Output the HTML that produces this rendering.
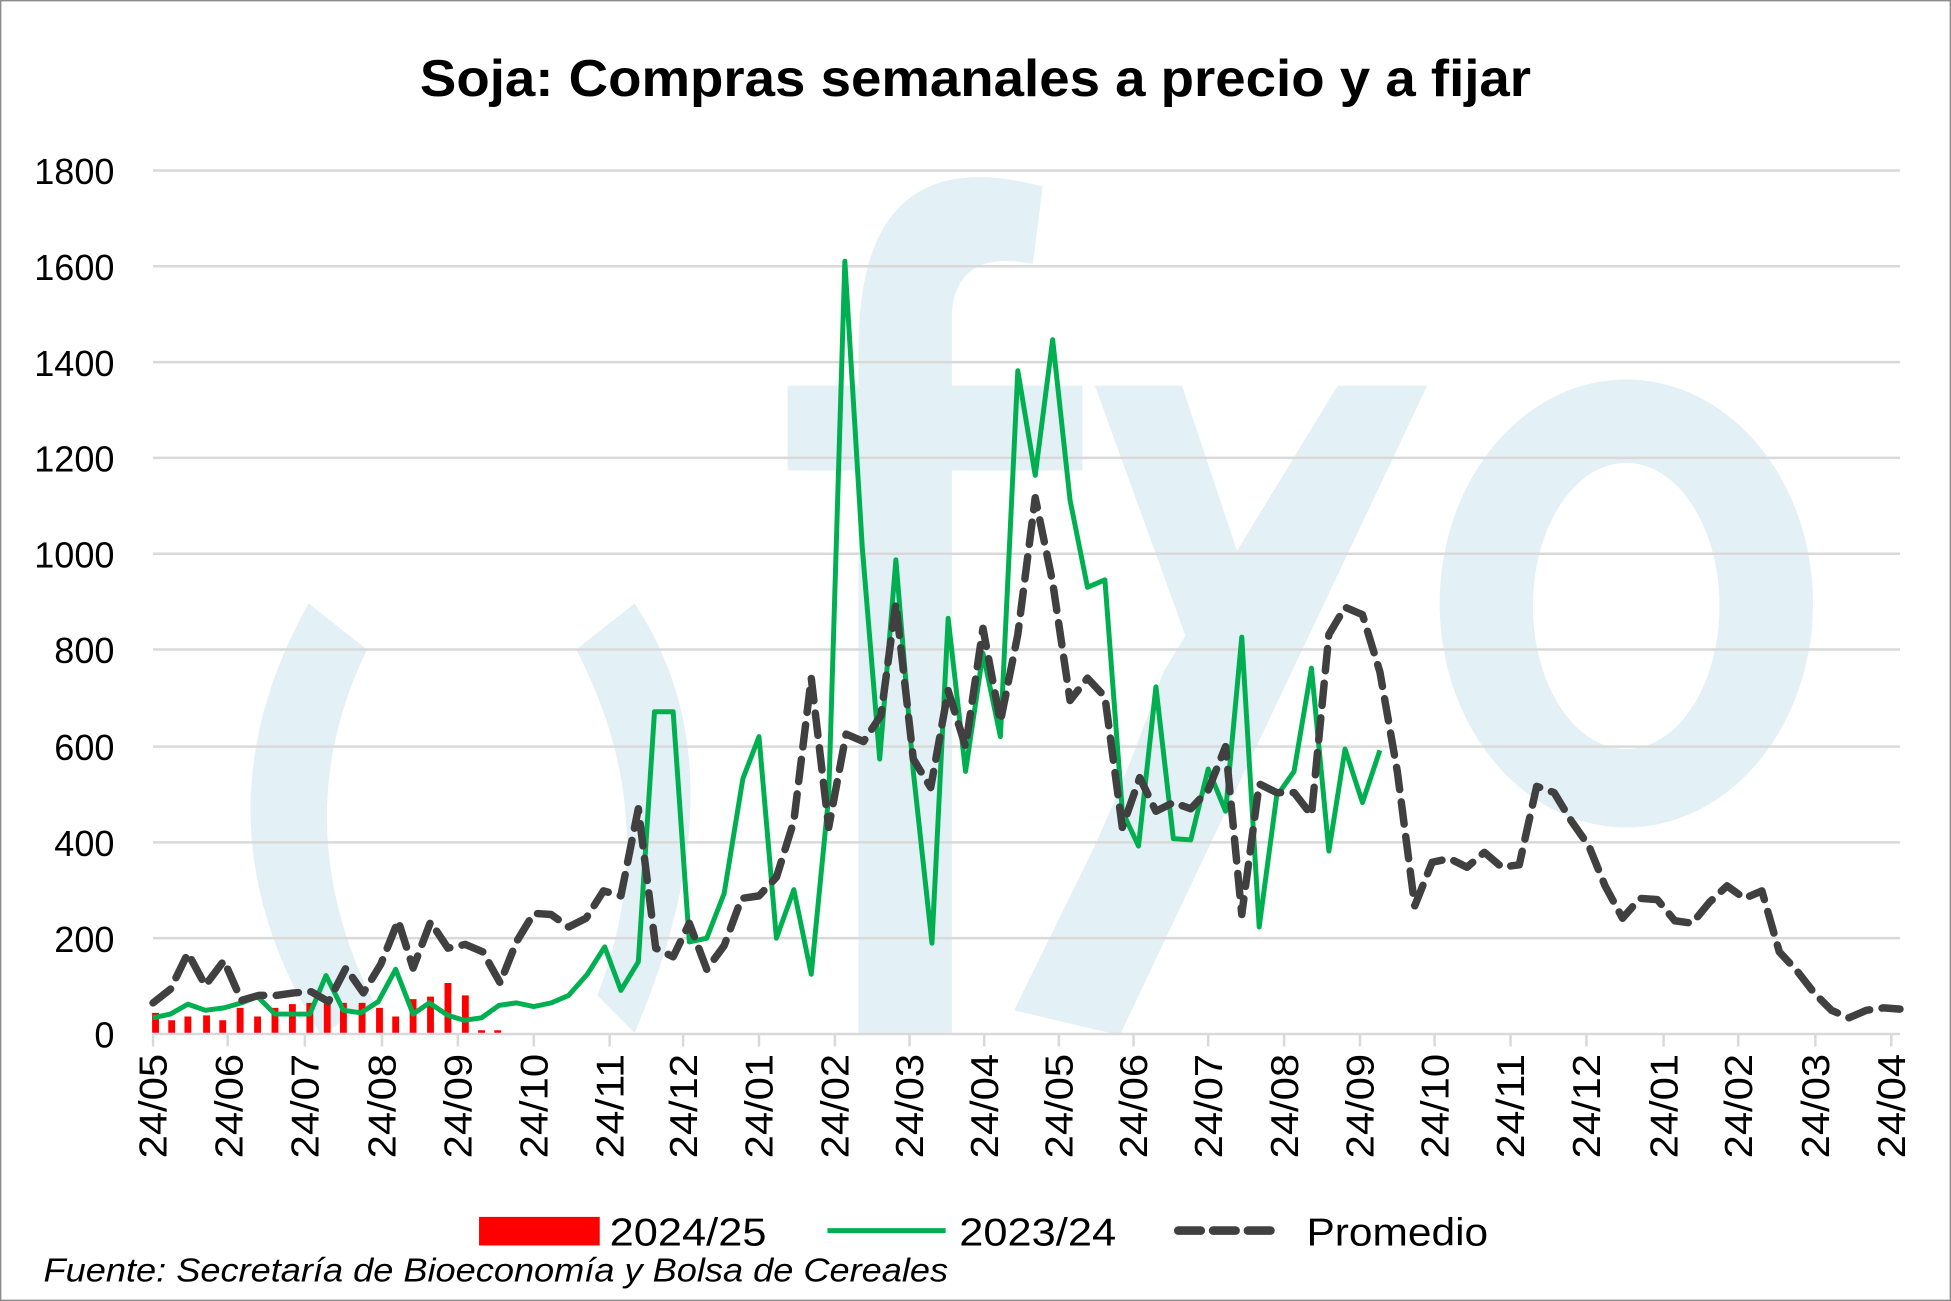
<!DOCTYPE html>
<html><head><meta charset="utf-8"><style>
html,body{margin:0;padding:0;background:#fff;}
svg{display:block;}
text{font-family:"Liberation Sans",sans-serif;}
</style></head><body>
<svg width="1951" height="1301" viewBox="0 0 1568 1045.6" preserveAspectRatio="none" xmlns="http://www.w3.org/2000/svg">
<rect x="0.5" y="0.5" width="1567" height="1044.6" fill="#fff" stroke="#8c8c8c" stroke-width="1.2"/>
<g fill="#e3f0f5">
<path d="M248,485 Q150,660 258,832 L300,805 Q228,660 295,522 Z"/>
<path d="M510,485 Q600,620 510,830 L480,800 Q535,660 463,522 Z"/>
<path d="M690,830 L765,830 L765,378 L870,378 L870,310 L765,310 L765,250 Q770,200 830,212 L838,150 Q690,110 690,280 L690,310 L633,310 L633,378 L690,378 Z"/>
<path d="M1075,310 L1147,310 L900,832 L815,812 L870,700 Q900,640 935,540 Z"/>
<path d="M880,310 L950,310 L1020,520 L985,600 Z"/>
<path fill-rule="evenodd" d="M1307,305 A150,180 0 1 0 1307.1,305 Z M1307,372 A75,115 0 1 1 1306.9,372 Z"/>
</g>
<text x="784" y="77" text-anchor="middle" font-size="42" font-weight="bold" fill="#000" textLength="893" lengthAdjust="spacingAndGlyphs">Soja: Compras semanales a precio y a fijar</text>
<g stroke="#d9d9d9" stroke-width="2">
<line x1="123" y1="754" x2="1527" y2="754"/><line x1="123" y1="677" x2="1527" y2="677"/>
<line x1="123" y1="600" x2="1527" y2="600"/><line x1="123" y1="522" x2="1527" y2="522"/>
<line x1="123" y1="445" x2="1527" y2="445"/><line x1="123" y1="368" x2="1527" y2="368"/>
<line x1="123" y1="291" x2="1527" y2="291"/><line x1="123" y1="214" x2="1527" y2="214"/>
<line x1="123" y1="137" x2="1527" y2="137"/><line x1="123" y1="831" x2="1527" y2="831"/>
</g>
<g font-size="29" text-anchor="end" fill="#000">
<text x="92" y="842">0</text><text x="92" y="765">200</text><text x="92" y="688">400</text>
<text x="92" y="611">600</text><text x="92" y="533">800</text><text x="92" y="456">1000</text>
<text x="92" y="379">1200</text><text x="92" y="302">1400</text><text x="92" y="225">1600</text>
<text x="92" y="148">1800</text>
</g>
<g font-size="31" fill="#000" text-anchor="end">
<text transform="translate(134,847) rotate(-90)" textLength="84" lengthAdjust="spacingAndGlyphs">24/05</text>
<text transform="translate(195,847) rotate(-90)" textLength="84" lengthAdjust="spacingAndGlyphs">24/06</text>
<text transform="translate(256,847) rotate(-90)" textLength="84" lengthAdjust="spacingAndGlyphs">24/07</text>
<text transform="translate(318,847) rotate(-90)" textLength="84" lengthAdjust="spacingAndGlyphs">24/08</text>
<text transform="translate(379,847) rotate(-90)" textLength="84" lengthAdjust="spacingAndGlyphs">24/09</text>
<text transform="translate(440,847) rotate(-90)" textLength="84" lengthAdjust="spacingAndGlyphs">24/10</text>
<text transform="translate(501,847) rotate(-90)" textLength="84" lengthAdjust="spacingAndGlyphs">24/11</text>
<text transform="translate(560,847) rotate(-90)" textLength="84" lengthAdjust="spacingAndGlyphs">24/12</text>
<text transform="translate(621,847) rotate(-90)" textLength="84" lengthAdjust="spacingAndGlyphs">24/01</text>
<text transform="translate(682,847) rotate(-90)" textLength="84" lengthAdjust="spacingAndGlyphs">24/02</text>
<text transform="translate(742,847) rotate(-90)" textLength="84" lengthAdjust="spacingAndGlyphs">24/03</text>
<text transform="translate(802,847) rotate(-90)" textLength="84" lengthAdjust="spacingAndGlyphs">24/04</text>
<text transform="translate(862,847) rotate(-90)" textLength="84" lengthAdjust="spacingAndGlyphs">24/05</text>
<text transform="translate(922,847) rotate(-90)" textLength="84" lengthAdjust="spacingAndGlyphs">24/06</text>
<text transform="translate(982,847) rotate(-90)" textLength="84" lengthAdjust="spacingAndGlyphs">24/07</text>
<text transform="translate(1043,847) rotate(-90)" textLength="84" lengthAdjust="spacingAndGlyphs">24/08</text>
<text transform="translate(1104,847) rotate(-90)" textLength="84" lengthAdjust="spacingAndGlyphs">24/09</text>
<text transform="translate(1164,847) rotate(-90)" textLength="84" lengthAdjust="spacingAndGlyphs">24/10</text>
<text transform="translate(1225,847) rotate(-90)" textLength="84" lengthAdjust="spacingAndGlyphs">24/11</text>
<text transform="translate(1286,847) rotate(-90)" textLength="84" lengthAdjust="spacingAndGlyphs">24/12</text>
<text transform="translate(1348,847) rotate(-90)" textLength="84" lengthAdjust="spacingAndGlyphs">24/01</text>
<text transform="translate(1408,847) rotate(-90)" textLength="84" lengthAdjust="spacingAndGlyphs">24/02</text>
<text transform="translate(1470,847) rotate(-90)" textLength="84" lengthAdjust="spacingAndGlyphs">24/03</text>
<text transform="translate(1531,847) rotate(-90)" textLength="84" lengthAdjust="spacingAndGlyphs">24/04</text>
</g>
<g stroke="#d9d9d9" stroke-width="2">
<path d="M123,831v10M183,831v10M245,831v10M307,831v10M368,831v10M429,831v10M490,831v10M549,831v10M610,831v10M671,831v10M731,831v10M791,831v10M851,831v10M911,831v10M971,831v10M1032,831v10M1093,831v10M1153,831v10M1214,831v10M1275,831v10M1337,831v10M1397,831v10M1459,831v10M1520,831v10"/>
</g>
<g stroke="#ff0000" stroke-width="5.5">
<path d="M125,830V814M138,830V820M151,830V817M166,830V816M179,830V820M193,830V810M207,830V817M221,830V810M235,830V807M249,830V806M263,830V804M276,830V806M291,830V806M305,830V810M318,830V817M332,830V803M346,830V801M360,830V790M374,830V800M387,830V828M400,830V828"/>
</g>
<polyline fill="none" stroke="#00b050" stroke-width="4" stroke-linejoin="round" points="123,818 137,815 151,807 165,812 180,810 194,806 207,801 221,815 235,815 249,815 262,784 276,812 290,814 304,805 318,779 332,815 345,806 360,816 373,820 387,818 401,808 415,806 429,809 443,806 457,800 472,783 486,761 499,796 513,773 526,572 541,572 554,757 568,754 582,718 597,626 610,592 624,754 638,715 652,783 666,640 679,210 693,440 707,610 720,450 734,620 749,758 762,497 776,620 790,525 804,592 818,298 832,382 846,273 860,402 874,472 888,466 902,652 915,680 929,552 943,674 957,675 971,618 985,652 998,512 1012,745 1026,640 1040,620 1054,537 1068,684 1081,602 1095,645 1109,603"/>
<polyline fill="none" stroke="#404040" stroke-width="6" stroke-dasharray="18,10" stroke-linecap="round" stroke-linejoin="round" points="123,806 137,795 151,766 165,792 180,772 194,804 208,800 222,800 236,798 250,797 264,805 278,778 292,798 306,775 320,740 332,778 346,741 360,762 374,759 388,765 402,790 415,757 429,734 443,735 457,745 471,738 485,716 499,720 513,650 527,762 541,769 554,742 568,779 582,760 596,722 610,720 624,705 638,660 652,545 666,665 680,590 694,596 708,575 720,485 734,610 748,633 762,555 776,600 790,505 804,580 818,510 832,400 846,468 860,563 874,545 888,560 902,665 916,625 929,652 943,645 957,650 971,635 985,600 998,735 1012,630 1026,637 1040,637 1054,655 1068,510 1081,488 1095,494 1109,540 1123,620 1137,728 1151,693 1165,690 1179,697 1193,685 1207,697 1221,695 1235,632 1249,637 1263,660 1277,680 1290,712 1304,738 1318,722 1332,723 1346,740 1360,742 1374,725 1388,712 1402,722 1416,716 1430,765 1444,780 1458,798 1472,812 1486,818 1500,812 1514,810 1527,811"/>
<rect x="385" y="978" width="97" height="23" fill="#ff0000"/>
<text x="490" y="1001" font-size="31" fill="#000" textLength="126" lengthAdjust="spacingAndGlyphs">2024/25</text>
<line x1="665" y1="989" x2="760" y2="989" stroke="#00b050" stroke-width="4"/>
<text x="771" y="1001" font-size="31" fill="#000" textLength="126" lengthAdjust="spacingAndGlyphs">2023/24</text>
<line x1="947" y1="989" x2="1030" y2="989" stroke="#404040" stroke-width="7" stroke-dasharray="18,10" stroke-linecap="round"/>
<text x="1050" y="1001" font-size="31" fill="#000" textLength="146" lengthAdjust="spacingAndGlyphs">Promedio</text>
<text x="35" y="1030" font-size="27" font-style="italic" fill="#000" textLength="727" lengthAdjust="spacingAndGlyphs">Fuente: Secretaría de Bioeconomía y Bolsa de Cereales</text>
</svg>
</body></html>
